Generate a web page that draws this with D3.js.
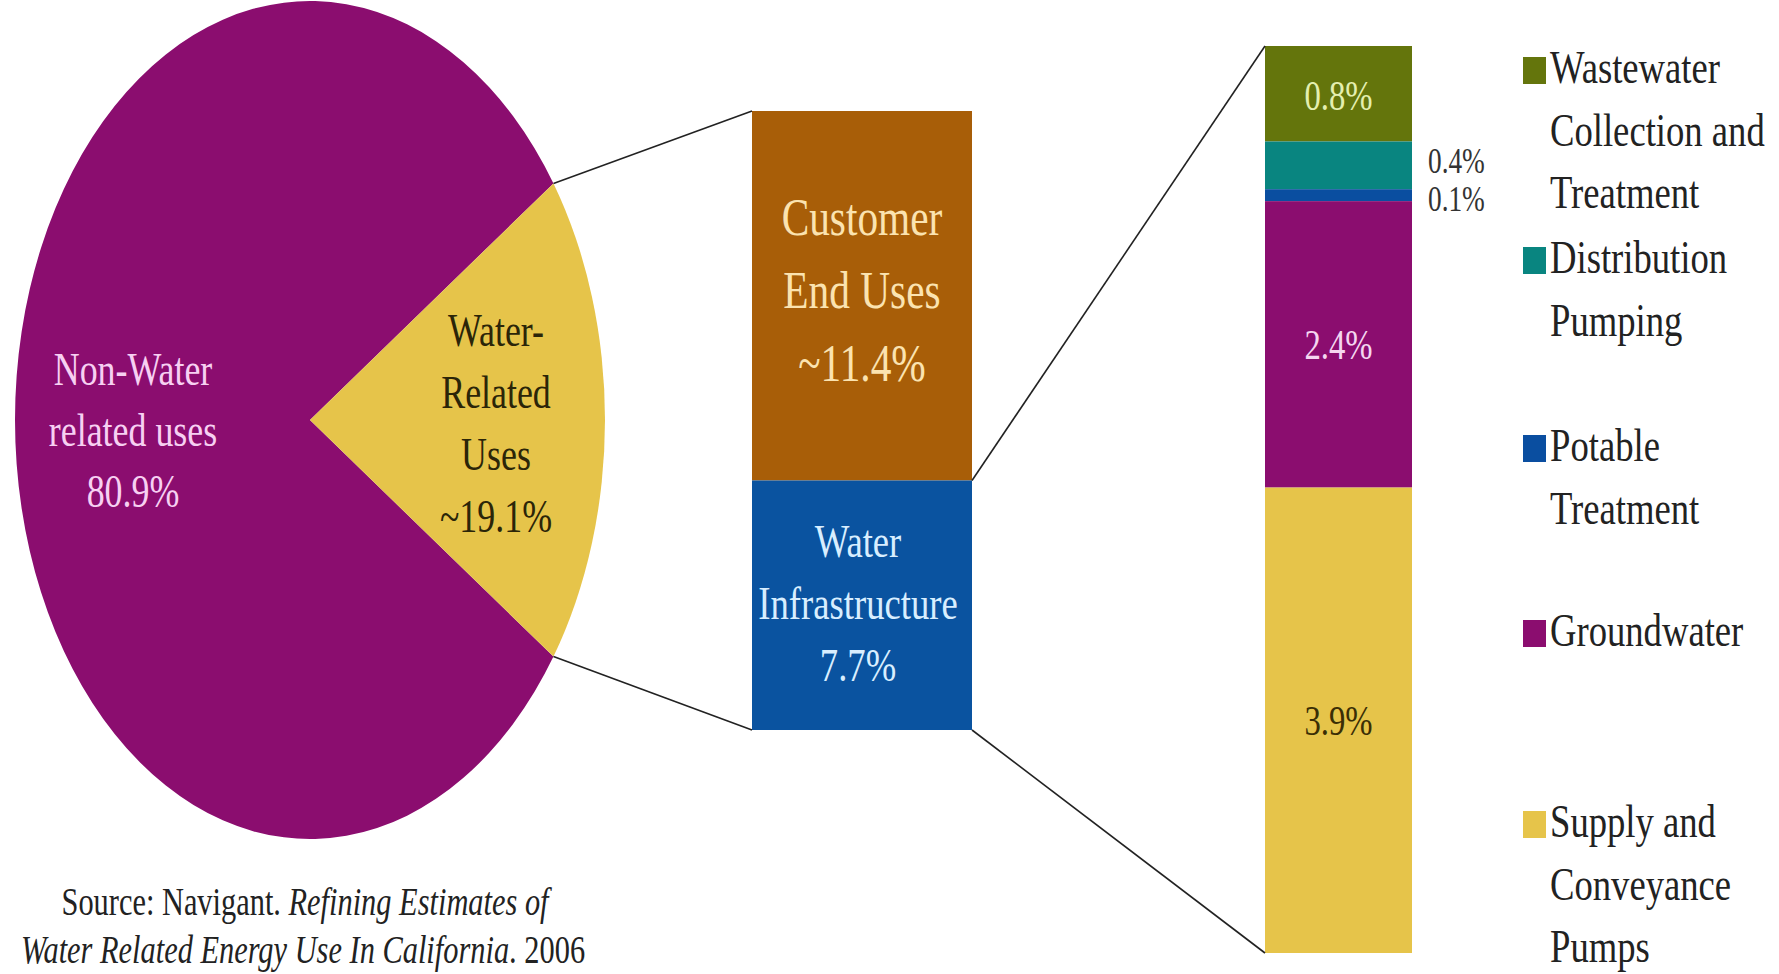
<!DOCTYPE html>
<html><head><meta charset="utf-8">
<script src="https://cdn.jsdelivr.net/npm/d3@7"></script>
<style>html,body{margin:0;padding:0;background:#fff;}svg{display:block;}</style>
</head><body>
<svg id="chart" width="1779" height="974"></svg>
<script>
// ---------- data ----------
const pieCategories = ["Non-Water related uses", "Water-Related Uses"];
const pieValues = [80.9, 19.1];
const pieLabelLines = [["Non-Water", "related uses", "80.9%"], ["Water-", "Related", "Uses", "~19.1%"]];

const midCategories = ["Customer End Uses", "Water Infrastructure"];
const midValues = [11.4, 7.7];
const midLabelLines = [["Customer", "End Uses", "~11.4%"], ["Water", "Infrastructure", "7.7%"]];

const infraCategories = ["Wastewater Collection and Treatment", "Distribution Pumping", "Potable Treatment", "Groundwater", "Supply and Conveyance Pumps"];
const infraValues = [0.8, 0.4, 0.1, 2.4, 3.9];
const infraLabels = ["0.8%", "0.4%", "0.1%", "2.4%", "3.9%"];
const legendLines = [["Wastewater", "Collection and", "Treatment"], ["Distribution", "Pumping"], ["Potable", "Treatment"], ["Groundwater"], ["Supply and", "Conveyance", "Pumps"]];

const sourceLine1 = ["Source: Navigant. ", "Refining Estimates of"];
const sourceLine2 = ["Water Related Energy Use In California", ". 2006"];

// ---------- styles ----------
const pieColors = ["#8b0d6f", "#e6c44a"];
const pieTextColors = ["#f7d0f2", "#2b2508"];
const midColors = ["#a85e08", "#0a53a0"];
const midTextColors = ["#fbe3b0", "#d8eeff"];
const infraColors = ["#64750c", "#098580", "#0a4ea0", "#8b0d6f", "#e6c44a"];
const infraTextColors = ["#e4efb0", "#333333", "#333333", "#f5d6f0", "#3a2e05"];
const FONT = "'Liberation Serif', 'Times New Roman', serif";
const SX = 0.78; // horizontal condensation of the glyphs

const svg = d3.select("#chart");

function txt(g, x, y, str, size, color, anchor, italic) {
  return g.append("text")
    .attr("transform", `translate(${x},${y}) scale(${SX},1)`)
    .attr("text-anchor", anchor || "middle")
    .attr("font-family", FONT)
    .attr("font-size", size)
    .attr("font-style", italic ? "italic" : "normal")
    .attr("fill", color)
    .text(str);
}

// ---------- pie ----------
const cx = 310, cy = 420, rx = 295, ry = 419;
const total = d3.sum(pieValues);
const waterFrac = pieValues[1] / total;
const startA = Math.PI / 2 - 2 * Math.PI * (1 - waterFrac) - Math.PI * waterFrac;
const pie = d3.pie().sort(null).startAngle(startA).endAngle(startA + 2 * Math.PI);
const arcs = pie(pieValues);
const arc = d3.arc().innerRadius(0).outerRadius(rx);
const pieG = svg.append("g").attr("transform", `translate(${cx},${cy}) scale(1,${ry / rx})`);
pieG.selectAll("path").data(arcs).join("path")
  .attr("d", arc)
  .attr("fill", (d, i) => pieColors[i]);

const edgePt = a => [cx + rx * Math.sin(a), cy - ry * Math.cos(a)];
const waterArc = arcs[1];
const pTop = edgePt(waterArc.startAngle);
const pBot = edgePt(waterArc.endAngle);

// pie labels
const pieLabelPos = [{x: 133, y: 385, dy: 61}, {x: 496, y: 346, dy: 62}];
pieLabelLines.forEach((lines, i) => {
  lines.forEach((l, j) => txt(svg, pieLabelPos[i].x, pieLabelPos[i].y + j * pieLabelPos[i].dy, l, 46, pieTextColors[i]));
});

// ---------- middle bar ----------
const midX0 = 752, midX1 = 972;
const yMid = d3.scaleLinear().domain([0, d3.sum(midValues)]).range([111, 730]);
const midStack = [];
let acc = 0;
midValues.forEach((v, i) => { midStack.push({i, y0: acc, y1: acc + v}); acc += v; });
svg.append("g").selectAll("rect").data(midStack).join("rect")
  .attr("x", midX0).attr("width", midX1 - midX0)
  .attr("y", d => yMid(d.y0)).attr("height", d => yMid(d.y1) - yMid(d.y0))
  .attr("fill", d => midColors[d.i]);

const midLabelPos = [{x: 862, y: 235, dy: 73, size: 53}, {x: 858, y: 557, dy: 62, size: 47}];
midLabelLines.forEach((lines, i) => {
  lines.forEach((l, j) => txt(svg, midLabelPos[i].x, midLabelPos[i].y + j * midLabelPos[i].dy, l, midLabelPos[i].size, midTextColors[i]));
});

// ---------- right stacked bar ----------
const rX0 = 1265, rX1 = 1412;
const yR = d3.scaleLinear().domain([0, d3.sum(infraValues)]).range([46, 953]);
const rStack = [];
acc = 0;
infraValues.forEach((v, i) => { rStack.push({i, y0: acc, y1: acc + v}); acc += v; });
svg.append("g").selectAll("rect").data(rStack).join("rect")
  .attr("x", rX0).attr("width", rX1 - rX0)
  .attr("y", d => yR(d.y0)).attr("height", d => yR(d.y1) - yR(d.y0))
  .attr("fill", d => infraColors[d.i]);

// value labels: inside for large segments, outside for small ones
const rcx = (rX0 + rX1) / 2;
txt(svg, rcx, 110, infraLabels[0], 42, infraTextColors[0]);
txt(svg, 1428, 173, infraLabels[1], 35, infraTextColors[1], "start");
txt(svg, 1428, 211, infraLabels[2], 35, infraTextColors[2], "start");
txt(svg, rcx, (yR(rStack[3].y0) + yR(rStack[3].y1)) / 2 + 15, infraLabels[3], 42, infraTextColors[3]);
txt(svg, rcx, (yR(rStack[4].y0) + yR(rStack[4].y1)) / 2 + 15, infraLabels[4], 42, infraTextColors[4]);

// ---------- connector lines ----------
const lines = [
  [pTop, [midX0, yMid(0)]],
  [pBot, [midX0, yMid(d3.sum(midValues))]],
  [[midX1, yMid(midValues[0])], [rX0, yR(0)]],
  [[midX1, yMid(d3.sum(midValues))], [rX0, yR(d3.sum(infraValues))]]
];
svg.append("g").selectAll("line").data(lines).join("line")
  .attr("x1", d => d[0][0]).attr("y1", d => d[0][1])
  .attr("x2", d => d[1][0]).attr("y2", d => d[1][1])
  .attr("stroke", "#222").attr("stroke-width", 1.6);

// ---------- legend ----------
const legendCenters = [70, 260, 448, 633, 824];
const lg = svg.append("g");
infraCategories.forEach((c, i) => {
  lg.append("rect").attr("x", 1523).attr("y", legendCenters[i] - 13).attr("width", 23).attr("height", 27).attr("fill", infraColors[i]);
  legendLines[i].forEach((l, j) => txt(lg, 1550, legendCenters[i] + 13 + j * 62.5, l, 47, "#222", "start"));
});

// ---------- source ----------
function mixedLine(y, parts, italicIdx, cxText) {
  const t = svg.append("text")
    .attr("transform", `translate(${cxText},${y}) scale(${SX - 0.02},1)`)
    .attr("text-anchor", "middle")
    .attr("font-family", FONT).attr("font-size", 40).attr("fill", "#222");
  parts.forEach((p, k) => t.append("tspan").attr("font-style", italicIdx.includes(k) ? "italic" : "normal").text(p));
}
mixedLine(915, sourceLine1, [1], 305);
mixedLine(963, sourceLine2, [0], 303);
</script>
</body></html>
